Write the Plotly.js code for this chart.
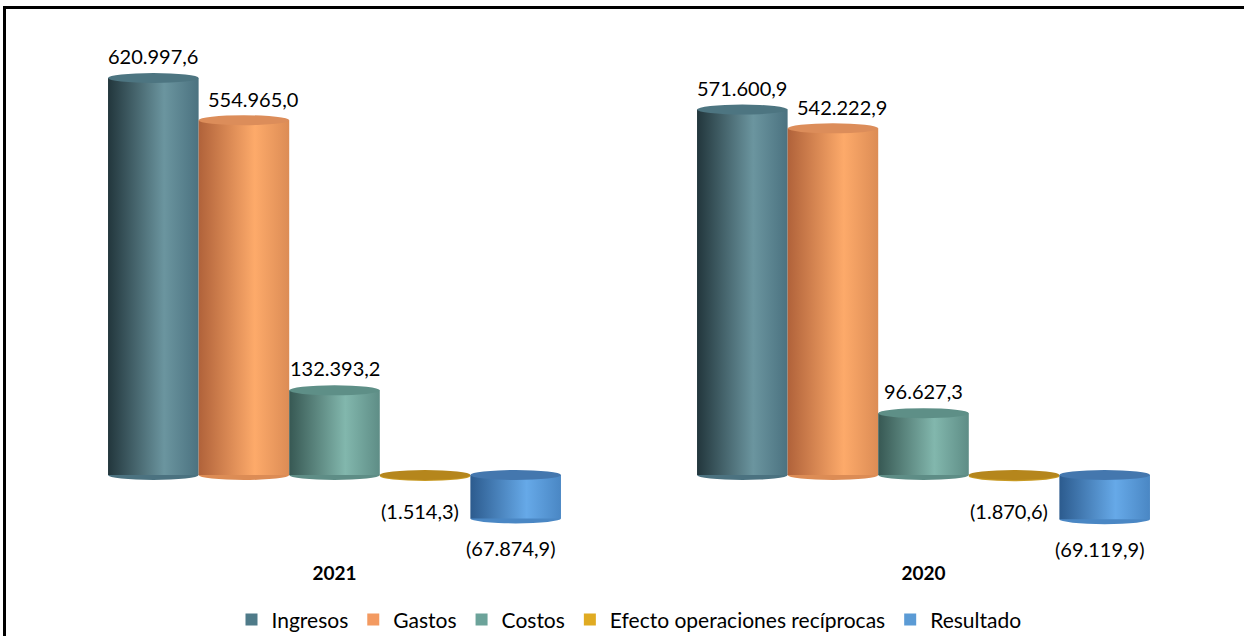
<!DOCTYPE html>
<html>
<head>
<meta charset="utf-8">
<script src="https://cdn.plot.ly/plotly-3.0.1.min.js"></script>
<style>
  html, body { margin: 0; padding: 0; background: #fff; overflow: hidden; }
  #chart { width: 1244px; height: 636px; }
  #frame { position: absolute; left: 3px; top: 6px; width: 1300px; height: 700px;
           border-left: 3px solid #000; border-top: 3px solid #000; pointer-events: none; }
</style>
</head>
<body>
<div id="chart"></div>
<div id="frame"></div>
<script>
// ---- data ----
const years = ['2021', '2020'];
const seriesNames = ['Ingresos', 'Gastos', 'Costos', 'Efecto operaciones recíprocas', 'Resultado'];
const ingresos  = [620997.6, 571600.9];
const gastos    = [554965.0, 542222.9];
const costos    = [132393.2, 96627.3];
const efecto    = [-1514.3, -1870.6];
const resultado = [-67874.9, -69119.9];
const seriesValues = [ingresos, gastos, costos, efecto, resultado];

// ---- styles ----
const legendColors = ['#4f7b89', '#f39a61', '#6ca39a', '#e0ab22', '#5b9bd5'];
const capColors    = ['#4d7581', '#dc8d5a', '#5e8f87', '#b5861c', '#4477ae'];
const gradStops = [
  ['#22363c', '#6b959f', '#4b7280'],
  ['#b0623a', '#fdaa6a', '#dc8c55'],
  ['#375853', '#82b7ad', '#5e8d86'],
  ['#a67a14', '#e3b030', '#c89a24'],
  ['#2c5b8e', '#66a9e8', '#4a87c4']
];
const labelDx = [0, 9, 0, -5, -5];
const labelDy = [22, 21, 22, -35, -30];

const yRange = [-132960, 680440];
const plotH = 520;
const bargap = 0.231;
const nS = seriesNames.length;
const w = (1 - bargap) / nS;
const ry = 5 * (yRange[1] - yRange[0]) / plotH;

function fmt(v) {
  const a = Math.abs(v).toFixed(1).split('.');
  const intPart = a[0].replace(/\B(?=(\d{3})+(?!\d))/g, '.');
  const s = intPart + ',' + a[1];
  return v < 0 ? '(' + s + ')' : s;
}

const xs = years.map((_, i) => i);
const traces = seriesNames.map((name, i) => ({
  type: 'bar',
  name: name,
  x: xs,
  y: seriesValues[i],
  marker: { color: legendColors[i], line: { width: 0 } },
  hoverinfo: 'skip'
}));

const shapes = [];
const annotations = [];
seriesNames.forEach((name, i) => {
  years.forEach((yr, g) => {
    const v = seriesValues[i][g];
    const c = g - (1 - bargap) / 2 + w * (i + 0.5);
    const top = Math.max(v, 0), bot = Math.min(v, 0);
    shapes.push({
      type: 'circle', xref: 'x', yref: 'y', layer: 'below',
      x0: c - w / 2, x1: c + w / 2, y0: bot - ry, y1: bot + ry,
      fillcolor: gradStops[i][2], line: { width: 0 }
    });
    shapes.push({
      type: 'circle', xref: 'x', yref: 'y', layer: 'above',
      x0: c - w / 2, x1: c + w / 2, y0: top - ry, y1: top + ry,
      fillcolor: capColors[i], line: { width: 0 }
    });
    annotations.push({
      x: c, y: v, xref: 'x', yref: 'y', text: fmt(v), showarrow: false,
      xanchor: 'center', yanchor: 'middle',
      xshift: labelDx[i], yshift: labelDy[i],
      font: { family: 'Lato, sans-serif', size: 20, color: '#000' }
    });
  });
});

const layout = {
  width: 1244, height: 636,
  margin: { l: 40, r: 26, t: 40, b: 76, autoexpand: false },
  paper_bgcolor: '#fff', plot_bgcolor: '#fff',
  barmode: 'group', bargap: bargap, bargroupgap: 0,
  showlegend: true,
  legend: {
    orientation: 'h', x: 0.5, xanchor: 'center', y: -0.115, yanchor: 'middle',
    font: { family: 'Lato, sans-serif', size: 21, color: '#000' },
    bgcolor: 'rgba(0,0,0,0)', traceorder: 'normal', itemwidth: 30
  },
  xaxis: {
    range: [-0.5, 1.5], tickvals: xs, ticktext: years, ticks: '',
    showgrid: false, zeroline: false, showline: false, automargin: false,
    tickfont: { family: 'Lato, sans-serif', size: 19, color: '#000', weight: 'bold' }
  },
  yaxis: {
    range: yRange, showgrid: false, zeroline: false, showline: false,
    showticklabels: false, ticks: '', automargin: false
  },
  shapes: shapes,
  annotations: annotations
};

Plotly.newPlot('chart', traces, layout, { staticPlot: true, displayModeBar: false }).then(gd => {
  const svg = gd.querySelector('.main-svg');
  let defs = svg.querySelector('defs');
  const NS = 'http://www.w3.org/2000/svg';
  if (!defs) { defs = document.createElementNS(NS, 'defs'); svg.insertBefore(defs, svg.firstChild); }
  gradStops.forEach((st, i) => {
    const lg = document.createElementNS(NS, 'linearGradient');
    lg.setAttribute('id', 'cyl' + i);
    lg.setAttribute('x1', '0'); lg.setAttribute('x2', '1');
    lg.setAttribute('y1', '0'); lg.setAttribute('y2', '0');
    [[0, st[0]], [0.62, st[1]], [1, st[2]]].forEach(([o, col]) => {
      const s = document.createElementNS(NS, 'stop');
      s.setAttribute('offset', o); s.setAttribute('stop-color', col);
      lg.appendChild(s);
    });
    defs.appendChild(lg);
  });
  gd.querySelectorAll('.barlayer .trace').forEach((tr, i) => {
    tr.querySelectorAll('.point path').forEach(p => { p.style.fill = 'url(#cyl' + i + ')'; });
  });
});
</script>
</body>
</html>
